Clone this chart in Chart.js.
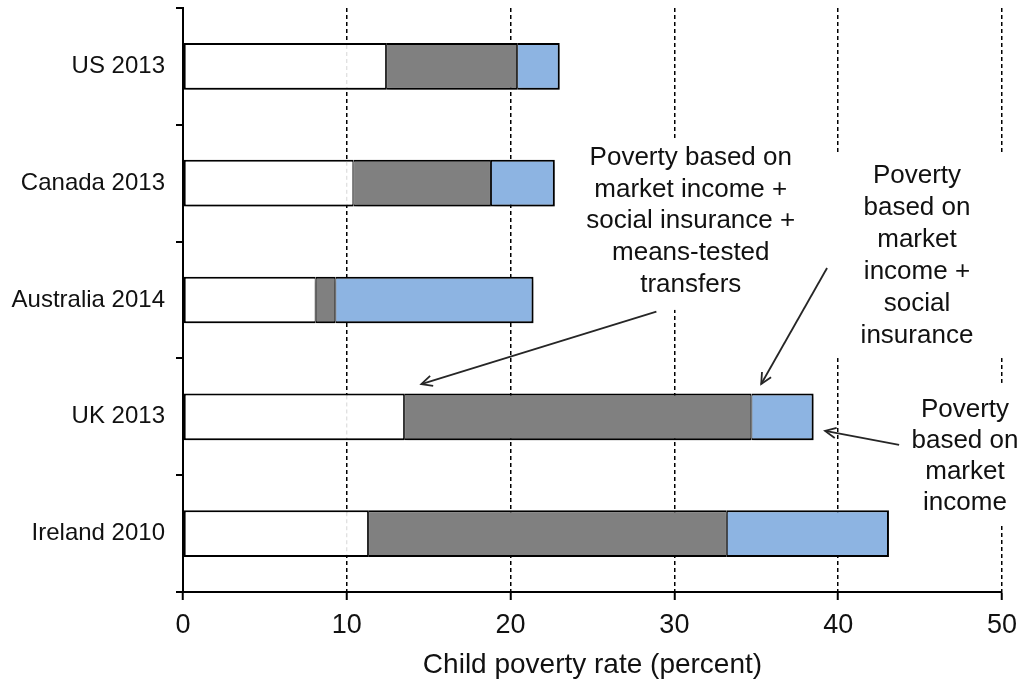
<!DOCTYPE html>
<html>
<head>
<meta charset="utf-8">
<script src="https://cdn.jsdelivr.net/npm/chart.js@4.4.1/dist/chart.umd.min.js"></script>
<style>
html,body{margin:0;padding:0;background:#fff;}
#wrap{width:1026px;height:683px;}
</style>
</head>
<body>
<div id="wrap"><canvas id="c" width="1026" height="683"></canvas></div>
<script>
// ---- data (child poverty rates, percent) ----
const categories = ['US 2013', 'Canada 2013', 'Australia 2014', 'UK 2013', 'Ireland 2010'];
// poverty based on market income + social insurance + means-tested transfers
const afterAllTransfers = [12.4, 10.4, 8.1, 13.5, 11.3];
// poverty based on market income + social insurance
const afterSocialInsurance = [20.4, 18.8, 9.3, 34.7, 33.2];
// poverty based on market income
const marketIncome = [23.0, 22.7, 21.4, 38.5, 43.1];
const xTickValues = [0, 10, 20, 30, 40, 50];
const axisTitle = 'Child poverty rate (percent)';
const noteAllTransfers = ['Poverty based on', 'market income +', 'social insurance +', 'means-tested', 'transfers'];
const noteSocialInsurance = ['Poverty', 'based on', 'market', 'income +', 'social', 'insurance'];
const noteMarket = ['Poverty', 'based on', 'market', 'income'];

// ---- annotation layout (data-space anchors: x = percent, y = category index) ----
const notes = [
  { lines: noteAllTransfers, x: 31.0, y: 0.845, gap: 31.7,
    box: [23.9, 0.63, 38.2, 2.085], arrow: [28.9, 2.10, 14.55, 2.72] },
  { lines: noteSocialInsurance, x: 44.81, y: 0.998, gap: 32,
    box: [39.6, 0.733, 50.15, 2.497], arrow: [39.32, 1.726, 35.30, 2.719] },
  { lines: noteMarket, x: 47.74, y: 3.002, gap: 31,
    box: [43.7, 2.71, 51.0, 3.926], arrow: [43.72, 3.241, 39.2, 3.121] }
];

const FONT = "'Liberation Sans', Arial, sans-serif";
const TEXT = '#111111';

const annotationPlugin = {
  id: 'notes',
  beforeDatasetsDraw(chart) {
    const {ctx, scales: {x, y}} = chart;
    ctx.save();
    ctx.fillStyle = '#ffffff';
    notes.forEach(n => {
      const x1 = x.getPixelForValue(n.box[0]), y1 = y.getPixelForValue(n.box[1]);
      const x2 = x.getPixelForValue(n.box[2]), y2 = y.getPixelForValue(n.box[3]);
      ctx.fillRect(x1, y1, x2 - x1, y2 - y1);
    });
    ctx.restore();
    // drop shadow for the bars
    ctx.save();
    ctx.shadowColor = 'rgba(0,0,0,0.30)';
    ctx.shadowBlur = 4;
    ctx.shadowOffsetX = 2;
    ctx.shadowOffsetY = 3;
  },
  afterDatasetsDraw(chart) {
    const {ctx, scales: {x, y}} = chart;
    ctx.restore();
    // faint gridlines seen through the white segments
    const meta = chart.getDatasetMeta(0);
    ctx.save();
    ctx.strokeStyle = '#d6d6d6';
    ctx.lineWidth = 1;
    ctx.setLineDash([4, 3]);
    meta.data.forEach(el => {
      const left = Math.min(el.base, el.x), right = Math.max(el.base, el.x);
      const top = el.y - el.height / 2, bottom = el.y + el.height / 2;
      xTickValues.forEach(v => {
        if (v === 0) return;
        const px = x.getPixelForValue(v);
        if (px > left + 3 && px < right - 3) {
          ctx.beginPath();
          ctx.moveTo(px, top + 2);
          ctx.lineTo(px, bottom - 2);
          ctx.stroke();
        }
      });
    });
    ctx.restore();
    // texts and arrows
    ctx.save();
    ctx.font = '26px ' + FONT;
    ctx.fillStyle = TEXT;
    ctx.textAlign = 'center';
    ctx.textBaseline = 'alphabetic';
    notes.forEach(n => {
      const cx = x.getPixelForValue(n.x);
      const by = y.getPixelForValue(n.y);
      n.lines.forEach((t, i) => ctx.fillText(t, cx, by + i * n.gap));
      const ax1 = x.getPixelForValue(n.arrow[0]), ay1 = y.getPixelForValue(n.arrow[1]);
      const ax2 = x.getPixelForValue(n.arrow[2]), ay2 = y.getPixelForValue(n.arrow[3]);
      ctx.strokeStyle = '#262626';
      ctx.lineWidth = 1.8;
      ctx.beginPath();
      ctx.moveTo(ax1, ay1);
      ctx.lineTo(ax2, ay2);
      ctx.stroke();
      const ang = Math.atan2(ay2 - ay1, ax2 - ax1);
      const L = 12, spread = 0.45;
      ctx.beginPath();
      ctx.moveTo(ax2 - L * Math.cos(ang - spread), ay2 - L * Math.sin(ang - spread));
      ctx.lineTo(ax2, ay2);
      ctx.lineTo(ax2 - L * Math.cos(ang + spread), ay2 - L * Math.sin(ang + spread));
      ctx.stroke();
    });
    ctx.restore();
  }
};

const barCommon = {
  borderColor: '#000000',
  borderSkipped: false,
  grouped: false,
  barPercentage: 0.4,
  categoryPercentage: 1.0
};

new Chart(document.getElementById('c'), {
  type: 'bar',
  data: {
    labels: categories,
    datasets: [
      Object.assign({
        label: 'Market income + social insurance + means-tested transfers',
        data: categories.map((_, i) => [0, afterAllTransfers[i]]),
        backgroundColor: '#ffffff',
        borderWidth: { top: 2, bottom: 2, left: 2, right: 1 }
      }, barCommon),
      Object.assign({
        label: 'Market income + social insurance',
        data: categories.map((_, i) => [afterAllTransfers[i], afterSocialInsurance[i]]),
        backgroundColor: '#808080',
        borderWidth: { top: 2, bottom: 2, left: 1, right: 1 }
      }, barCommon),
      Object.assign({
        label: 'Market income',
        data: categories.map((_, i) => [afterSocialInsurance[i], marketIncome[i]]),
        backgroundColor: '#8db4e2',
        borderWidth: { top: 2, bottom: 2, left: 1, right: 2 }
      }, barCommon)
    ]
  },
  options: {
    indexAxis: 'y',
    responsive: false,
    animation: false,
    devicePixelRatio: 1,
    layout: { padding: { top: 8, right: 23, left: 0, bottom: 0 } },
    plugins: { legend: { display: false }, tooltip: { enabled: false } },
    scales: {
      x: {
        type: 'linear',
        min: xTickValues[0],
        max: xTickValues[xTickValues.length - 1],
        afterBuildTicks: s => { s.ticks = xTickValues.map(v => ({ value: v })); },
        afterFit: s => { s.height = 91; },
        ticks: {
          color: TEXT,
          padding: 9,
          font: { family: FONT, size: 27 }
        },
        grid: {
          color: c => (c.tick && c.tick.value === 0) ? 'rgba(0,0,0,0)' : '#000000',
          lineWidth: 1.5,
          tickColor: '#000000',
          tickWidth: 2,
          tickLength: 8
        },
        border: { display: true, color: '#000000', width: 2, dash: [4, 3] },
        title: {
          display: true,
          text: axisTitle,
          color: TEXT,
          font: { family: FONT, size: 28 },
          padding: { top: 0, bottom: 1 }
        }
      },
      y: {
        type: 'category',
        offset: true,
        afterFit: s => { s.width = 183; s.paddingTop = 0; s.paddingBottom = 0; },
        ticks: {
          color: TEXT,
          padding: 11,
          font: { family: FONT, size: 24 }
        },
        grid: {
          offset: true,
          drawOnChartArea: false,
          drawTicks: true,
          color: '#000000',
          tickColor: '#000000',
          lineWidth: 2,
          tickWidth: 2,
          tickLength: 7
        },
        border: { display: true, color: '#000000', width: 2 }
      }
    }
  },
  plugins: [annotationPlugin]
});
</script>
</body>
</html>
